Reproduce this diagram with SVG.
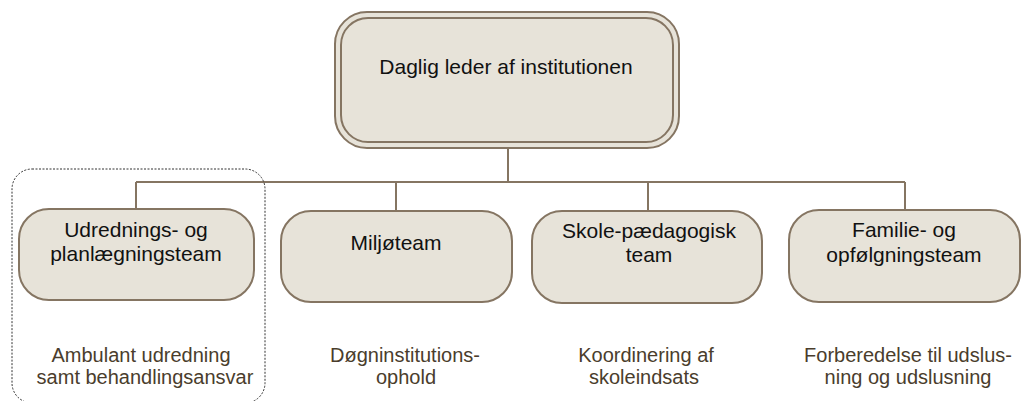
<svg xmlns="http://www.w3.org/2000/svg" width="1024" height="401" viewBox="0 0 1024 401">
  <style>
    .box { fill: #E7E3D9; stroke: #857562; stroke-width: 2; }
    .conn { fill: none; stroke: #857562; stroke-width: 2; }
    .lbl { font-family: "Liberation Sans", Arial, sans-serif; font-size: 21px; fill: #111111; text-anchor: middle; }
    .desc { font-family: "Liberation Sans", Arial, sans-serif; font-size: 20px; fill: #4A3D2C; text-anchor: middle; }
    .group { fill: none; stroke: #333333; stroke-width: 1; stroke-dasharray: 2 1.5; }
  </style>
  <rect width="1024" height="401" fill="#FFFFFF"/>
  <g id="connectors">
    <line class="conn" x1="508" y1="148" x2="508" y2="182" stroke-width="2.5"/>
    <line class="conn" x1="136" y1="182" x2="905" y2="182"/>
    <line class="conn" x1="136" y1="182" x2="136" y2="209"/>
    <line class="conn" x1="396" y1="182" x2="396" y2="211"/>
    <line class="conn" x1="648" y1="182" x2="648" y2="211"/>
    <line class="conn" x1="905" y1="182" x2="905" y2="210"/>
  </g>
  <g id="group-udredning">
    <rect class="group" x="12" y="169" width="253" height="234" rx="20"/>
  </g>
  <g id="leder">
    <rect class="box" x="335" y="12" width="344" height="136" rx="32"/>
    <rect class="box" x="341" y="18" width="332" height="124" rx="27"/>
    <text class="lbl" x="506" y="74">Daglig leder af institutionen</text>
  </g>
  <g id="udredningsteam">
    <rect class="box" x="19" y="209" width="235" height="91" rx="30"/>
    <text class="lbl" x="136" y="237">Udrednings- og</text>
    <text class="lbl" x="136" y="261">planlægningsteam</text>
  </g>
  <g id="miljoeteam">
    <rect class="box" x="281" y="211" width="231" height="91" rx="30"/>
    <text class="lbl" x="396" y="250">Miljøteam</text>
  </g>
  <g id="skoleteam">
    <rect class="box" x="532" y="211" width="230" height="92" rx="30"/>
    <text class="lbl" x="649" y="238">Skole-pædagogisk</text>
    <text class="lbl" x="649" y="262">team</text>
  </g>
  <g id="familieteam">
    <rect class="box" x="789" y="210" width="231" height="92" rx="30"/>
    <text class="lbl" x="904" y="237">Familie- og</text>
    <text class="lbl" x="904" y="262">opfølgningsteam</text>
  </g>
  <g id="desc-udredning">
    <text class="desc" x="141" y="362">Ambulant udredning</text>
    <text class="desc" x="145" y="384">samt behandlingsansvar</text>
  </g>
  <g id="desc-miljoe">
    <text class="desc" x="405" y="362">Døgninstitutions-</text>
    <text class="desc" x="406" y="384">ophold</text>
  </g>
  <g id="desc-skole">
    <text class="desc" x="646" y="362">Koordinering af</text>
    <text class="desc" x="644" y="384">skoleindsats</text>
  </g>
  <g id="desc-familie">
    <text class="desc" x="908" y="362">Forberedelse til udslus-</text>
    <text class="desc" x="908" y="384">ning og udslusning</text>
  </g>
</svg>
